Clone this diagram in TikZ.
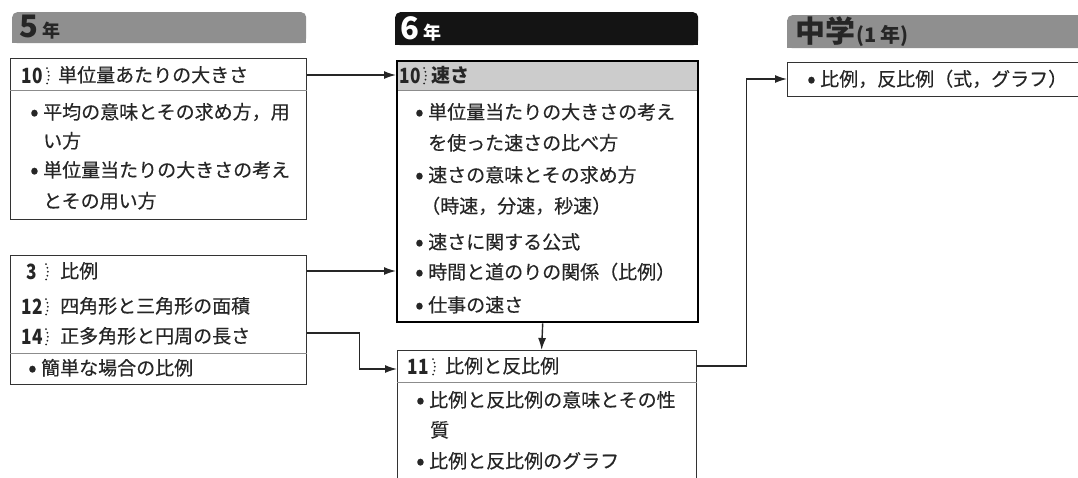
\documentclass[tikz,border=0pt]{standalone}
\usepackage{fontspec}
\usepackage{graphicx}
\setmainfont{Noto Sans CJK JP}
\newfontfamily\bodyfont{Noto Sans CJK JP}[FakeBold=0.35]
\usetikzlibrary{arrows.meta,calc}
\definecolor{txt}{gray}{0.15}
\definecolor{hdrgray}{gray}{0.56}
\definecolor{hdrblack}{gray}{0.08}
\definecolor{rowgray}{gray}{0.80}
\definecolor{divc}{gray}{0.55}
\newcommand{\bul}{\makebox[13pt][l]{\raisebox{-1.5pt}{\fontsize{25}{25}\selectfont •}}}
\newcommand{\nm}[1]{\scalebox{0.82}[1]{#1}}
\tikzset{
  box/.style={draw=black!80, line width=1.2pt, inner sep=0, fill=none},
  thickbox/.style={draw=black, line width=2.4pt, inner sep=0},
  hdr/.style={inner sep=0, rounded corners=5pt, draw=none},
  divline/.style={draw=divc, line width=0.8pt},
  ln/.style={anchor=base west, inner sep=0, text=txt, font=\bodyfont\fontsize{19}{22}\selectfont},
  num/.style={anchor=base east, inner sep=0, text=txt, font=\bfseries\fontsize{21}{22}\selectfont},
  htxt/.style={anchor=base west, inner sep=0, font=\bfseries},
  arr/.style={draw=black!85, line width=1.4pt, -{Latex[length=12pt,width=8pt]}},
  sepdots/.style={draw=txt, line width=2pt, line cap=round, dash pattern=on 0pt off 4pt},
  sepd/.pic={\draw[sepdots] (0,-14) .. controls (2.5,-9) and (2.5,-3) .. (0,2);}
}
\begin{document}
\begin{tikzpicture}[x=1pt,y=-1pt]
\useasboundingbox (0,0) rectangle (1078,477);
\clip (0,0) rectangle (1078,477);
\fill[white] (0,0) rectangle (1078,477);

% ---------- headers ----------
\node[hdr, fill=hdrgray, minimum width=294, minimum height=31, anchor=north west] (h5) at (12,12) {};
\fill[hdrgray] (h5.west) rectangle (h5.south east);
\node[htxt, text=txt] at ($(h5.south west)+(7,-6)$) {{\fontsize{31}{32}\selectfont 5}\hspace{4pt}{\fontsize{18}{20}\selectfont 年}};

\node[hdr, fill=hdrblack, minimum width=303, minimum height=33, anchor=north west] (h6) at (395,12) {};
\fill[hdrblack] (h6.west) rectangle (h6.south east);
\node[htxt, text=white] at ($(h6.south west)+(5,-6)$) {{\fontsize{31}{32}\selectfont 6}\hspace{4pt}{\fontsize{18}{20}\selectfont 年}};

\node[hdr, fill=hdrgray, minimum width=330, minimum height=33, anchor=north west] (hj) at (787,15) {};
\fill[hdrgray] (hj.west) rectangle (hj.south east);
\node[htxt, text=txt] at ($(hj.south west)+(8,-6)$) {{\fontsize{30}{32}\selectfont 中学}\hspace{1pt}{\fontsize{20}{22}\selectfont (1 年)}};

% ---------- 5th grade, box 1 ----------
\node[box, minimum width=296, minimum height=161, anchor=north west] (b1) at (10,58) {};
\draw[divline] (b1.west |- 0,90) -- (b1.east |- 0,90);
\node[num] at (43,83) {\nm{10}};
\pic at (47,82) {sepd};
\node[ln] at (58,82) {単位量あたりの大きさ};
\node[ln] at (30,119) {\bul 平均の意味とその求め方，用};
\node[ln] at (43,148) {い方};
\node[ln] at (30,177) {\bul 単位量当たりの大きさの考え};
\node[ln] at (43,208) {とその用い方};

% ---------- 5th grade, box 2 ----------
\node[box, minimum width=296, minimum height=129, anchor=north west] (b2) at (10,255) {};
\draw[divline] (b2.west |- 0,353) -- (b2.east |- 0,353);
\node[num] at (37,279) {\nm{3}};
\pic at (46,278) {sepd};
\node[ln] at (60,278) {比例};
\node[num] at (43,314) {\nm{12}};
\pic at (46,313) {sepd};
\node[ln] at (60,313) {四角形と三角形の面積};
\node[num] at (43,344) {\nm{14}};
\pic at (46,343) {sepd};
\node[ln] at (60,343) {正多角形と円周の長さ};
\node[ln] at (28,375) {\bul 簡単な場合の比例};

% ---------- 6th grade, box 1 ----------
\node[thickbox, minimum width=301, minimum height=261, anchor=north west] (b6) at (396,60) {};
\fill[rowgray] ($(b6.north west)+(1.2,1.2)$) rectangle ($(b6.north east)+(-1.2,30)$);
\draw[divline] (b6.west |- 0,90) -- (b6.east |- 0,90);
\node[thickbox, minimum width=301, minimum height=261, anchor=north west] at (396,60) {};
\node[num] at (421,83) {\nm{10}};
\pic at (424,82) {sepd};
\node[ln, font=\bfseries\fontsize{19}{22}\selectfont] at (431,82) {速さ};
\node[ln] at (415,119) {\bul 単位量当たりの大きさの考え};
\node[ln] at (428,150) {を使った速さの比べ方};
\node[ln] at (415,182) {\bul 速さの意味とその求め方};
\node[ln] at (421,213) {（時速，分速，秒速）};
\node[ln] at (415,249) {\bul 速さに関する公式};
\node[ln] at (415,279) {\bul 時間と道のりの関係（比例）};
\node[ln] at (415,312) {\bul 仕事の速さ};

% ---------- 6th grade, box 2 ----------
\node[box, minimum width=299, minimum height=160, anchor=north west] (b11) at (397,350) {};
\draw[divline] (b11.west |- 0,382) -- (b11.east |- 0,382);
\node[num] at (429,374) {\nm{11}};
\pic at (433,373) {sepd};
\node[ln] at (445,373) {比例と反比例};
\node[ln] at (416,407) {\bul 比例と反比例の意味とその性};
\node[ln] at (430,437) {質};
\node[ln] at (416,468) {\bul 比例と反比例のグラフ};

% ---------- junior high ----------
\node[box, minimum width=330, minimum height=34, anchor=north west] (bj) at (787,62) {};
\node[ln] at (807,86) {\bul 比例，反比例（式，グラフ）};

% ---------- connectors ----------
\draw[arr] ($(b1.north east)+(0,17)$) -- ($(b6.north west)+(0,15)$);
\draw[arr] ($(b2.north east)+(0,16)$) -- (b6.west |- {$(b2.north east)+(0,16)$});
\draw[arr] ($(b2.north east)+(0,78)$) -- ++(52,0) |- ($(b11.north west)+(0,19)$);
\draw[arr] ($(b6.south)+(-5,0)$) -- ($(b11.north)+(-5.5,0)$);
\draw[arr] ($(b11.north east)+(0,16)$) -- ++(49,0) |- ($(bj.north west)+(0,17)$);
\end{tikzpicture}
\end{document}
